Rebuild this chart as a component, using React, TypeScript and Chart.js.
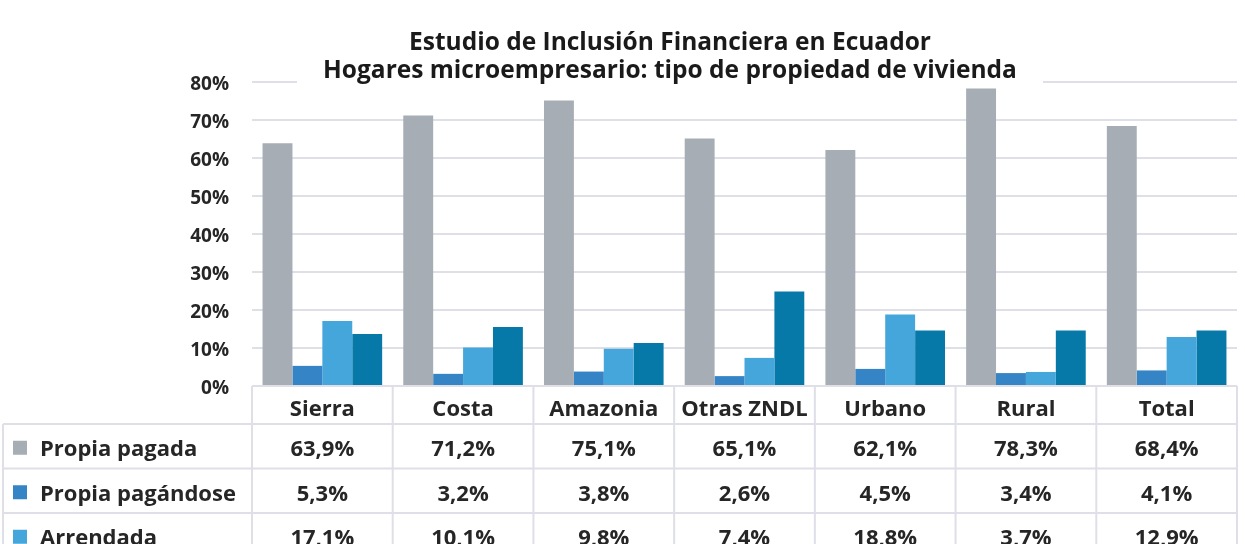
import React, { useEffect, useRef } from "react";
import { Chart, registerables } from "chart.js";

Chart.register(...registerables);

const titleLines = [
  "Estudio de Inclusión Financiera en Ecuador",
  "Hogares microempresario: tipo de propiedad de vivienda",
];
const categories = ["Sierra", "Costa", "Amazonia", "Otras ZNDL", "Urbano", "Rural", "Total"];
const seriesNames = ["Propia pagada", "Propia pagándose", "Arrendada", "Otra"];
const propiaPagada = [63.9, 71.2, 75.1, 65.1, 62.1, 78.3, 68.4];
const propiaPagandose = [5.3, 3.2, 3.8, 2.6, 4.5, 3.4, 4.1];
const arrendada = [17.1, 10.1, 9.8, 7.4, 18.8, 3.7, 12.9];
const otra = [13.7, 15.5, 11.3, 24.9, 14.6, 14.6, 14.6];
const seriesColors = ["#A7ADB4", "#3484C6", "#45A6DB", "#0779A8"];
const yMin = 0;
const yMax = 80;
const yStep = 10;

const FONT = "'Open Sans', sans-serif";
const TEXT = "#262626";
const LINE = "#DFDFE7";

const tablePlugin = {
  id: "tablePlugin",
  afterDraw(chart: any) {
    const ctx = chart.ctx as CanvasRenderingContext2D;
    const area = chart.chartArea;
    const x = chart.scales.x;
    const n = categories.length;
    const colW = (area.right - area.left) / n;
    const headerTop = area.bottom;
    const headerBottom = 424;
    const rowH = 44.5;
    ctx.save();

    // title with white background
    ctx.font = `bold 24.5px ${FONT}`;
    ctx.textAlign = "center";
    ctx.textBaseline = "alphabetic";
    const cx = 670;
    ctx.fillStyle = "#ffffff";
    ctx.fillRect(297, 56, 2 * (cx - 297), 30);
    ctx.fillStyle = "#1a1a1a";
    ctx.fillText(titleLines[0], cx, 50);
    ctx.fillText(titleLines[1], cx, 78);

    // table lines
    ctx.strokeStyle = LINE;
    ctx.lineWidth = 2;
    ctx.beginPath();
    for (let i = 0; i <= n; i++) {
      const px = i < n ? x.getPixelForValue(i) - colW / 2 : x.getPixelForValue(n - 1) + colW / 2;
      ctx.moveTo(px, headerTop);
      ctx.lineTo(px, 600);
    }
    ctx.moveTo(3, headerBottom);
    ctx.lineTo(3, 600);
    for (let r = 0; r <= seriesNames.length; r++) {
      const py = headerBottom + r * rowH;
      ctx.moveTo(3, py);
      ctx.lineTo(area.right, py);
    }
    ctx.stroke();

    // header labels
    ctx.fillStyle = TEXT;
    ctx.font = `bold 22px ${FONT}`;
    ctx.textAlign = "center";
    ctx.textBaseline = "middle";
    categories.forEach((c, i) => {
      ctx.fillText(c, x.getPixelForValue(i), 410);
    });

    // rows
    chart.data.datasets.forEach((ds: any, r: number) => {
      const cy = headerBottom + r * rowH + rowH / 2 + 3.5;
      ctx.fillStyle = ds.backgroundColor;
      ctx.fillRect(13, cy - 9, 14, 14);
      ctx.fillStyle = TEXT;
      ctx.textAlign = "left";
      ctx.font = `bold 22px ${FONT}`;
      ctx.fillText(ds.label, 40, cy);
      ctx.textAlign = "center";
      ds.data.forEach((v: number, i: number) => {
        ctx.fillText(v.toFixed(1).replace(".", ",") + "%", x.getPixelForValue(i), cy);
      });
    });
    ctx.restore();
  },
};

export default function App() {
  const ref = useRef<HTMLCanvasElement | null>(null);
  useEffect(() => {
    document.body.style.margin = "0";
    const values = [propiaPagada, propiaPagandose, arrendada, otra];
    const chart = new Chart(ref.current as HTMLCanvasElement, {
      type: "bar",
      data: {
        labels: categories,
        datasets: values.map((d, i) => ({
          label: seriesNames[i],
          data: d,
          backgroundColor: seriesColors[i],
          borderWidth: 0,
          categoryPercentage: 0.85,
          barPercentage: 1.0,
        })),
      },
      options: {
        responsive: false,
        animation: false,
        layout: { padding: { top: 82, right: 8, left: 0, bottom: 0 } },
        plugins: {
          legend: { display: false },
          title: { display: false },
          tooltip: { enabled: false },
        },
        scales: {
          x: {
            ticks: { display: false },
            grid: { display: false },
            border: { display: false },
            afterFit: (s: any) => {
              s.height = 544 - 386;
            },
          },
          y: {
            min: yMin,
            max: yMax,
            ticks: {
              stepSize: yStep,
              padding: 23,
              labelOffset: 3,
              color: TEXT,
              font: { family: FONT, size: 19, weight: "bold" },
              callback: (v: any) => v + "%",
            },
            grid: { color: LINE, lineWidth: 2, drawTicks: false },
            border: { display: false },
            afterFit: (s: any) => {
              s.width = 252;
            },
          },
        },
      },
      plugins: [tablePlugin],
    });
    return () => chart.destroy();
  }, []);
  return (
    <div style={{ width: 1245, height: 544, overflow: "hidden" }}>
      <canvas ref={ref} width={1245} height={544} />
    </div>
  );
}
